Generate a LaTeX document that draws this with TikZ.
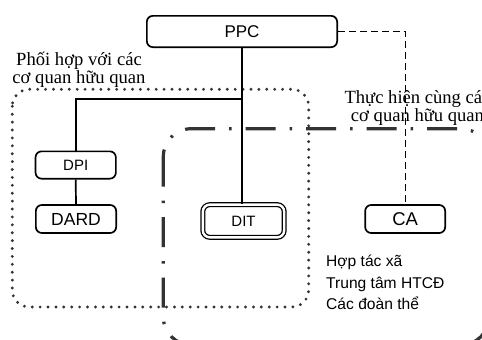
\documentclass[tikz,border=0pt]{standalone}
\usepackage{fontspec}
\setmainfont{Liberation Serif}
\setsansfont{Liberation Sans}
\definecolor{grp}{HTML}{333333}
\tikzset{
  box/.style={draw, line width=1.7pt, rounded corners=6pt, fill=white, inner sep=0pt, font=\sffamily},
  conn/.style={draw, line width=1.7pt},
  dashconn/.style={draw, line width=1.4pt, dash pattern=on 7pt off 4pt},
  dotgroup/.style={draw=grp, line width=3.2pt, line cap=round, dash pattern=on 0pt off 7.9pt, rounded corners=17pt},
  dashdotgroup/.style={draw=grp, line width=3.2pt, dash pattern=on 30pt off 14pt on 2.5pt off 14pt, rounded corners=28pt},
  serifnote/.style={font=\fontsize{18.6}{17.6}\selectfont, align=center, inner sep=0pt},
  sansnote/.style={font=\sffamily\fontsize{15.6}{21.3}\selectfont, align=left, inner sep=0pt}
}
\begin{document}
\begin{tikzpicture}[x=1pt,y=-1pt]
\useasboundingbox (0,0) rectangle (482,340);
\clip (0,0) rectangle (482,340);
% group outlines
\draw[dotgroup] (12.3,89.3) rectangle (308.7,307);
\draw[dashdotgroup] (163.3,128.7) rectangle (489,345);
% group labels (base = baseline of last line)
\node[serifnote, anchor=base] (lab1) at (79,83.3) {Phối hợp với các\\cơ quan hữu quan};
\node[serifnote, anchor=base] (lab2) at (417.5,121) {Thực hiện cùng các\\cơ quan hữu quan};
% boxes
\node[box, minimum width=190.3pt, minimum height=31.3pt, font=\sffamily\fontsize{17}{20}\selectfont] (ppc) at (242,31.5) {PPC};
\node[box, minimum width=80.3pt, minimum height=27.3pt, font=\sffamily\fontsize{15}{18}\selectfont] (dpi) at (75.7,165) {DPI};
\node[box, minimum width=80.3pt, minimum height=28pt, font=\sffamily\fontsize{17.5}{20}\selectfont] (dard) at (76,219) {DARD};
\node[box, minimum width=80pt, minimum height=28pt, font=\sffamily\fontsize{18.5}{20}\selectfont] (ca) at (405.2,219) {CA};
\node[box, double, line width=1.3pt, double distance=2.4pt, rounded corners=7pt, minimum width=81.4pt, minimum height=32.7pt, font=\sffamily\fontsize{15}{18}\selectfont] (dit) at (243.5,221) {DIT};
% connectors
\coordinate (j) at (242,99);
\draw[conn] (ppc.south) -- (ppc.south |- dit.north);
\draw[conn] (j) -| (dpi.north);
\draw[conn] (dpi.south) -- (dard.north);
\draw[dashconn] (ppc.east) -| (ca.north);
% note
\node[sansnote, anchor=base west] (note) at (326,309.3) {Hợp tác xã\\Trung tâm HTCĐ\\Các đoàn thể};
\end{tikzpicture}
\end{document}
